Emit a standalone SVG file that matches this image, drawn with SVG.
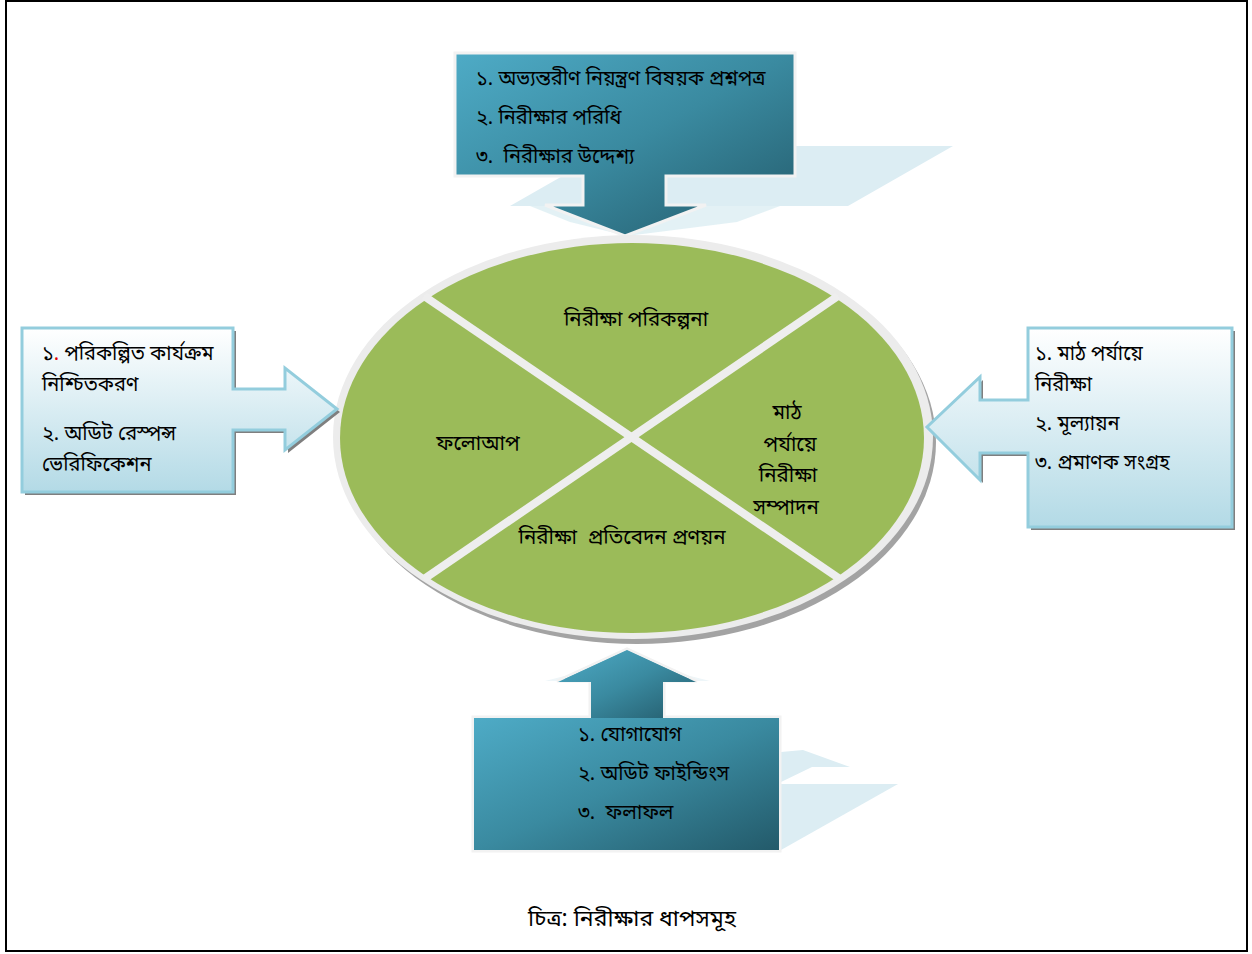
<svg xmlns="http://www.w3.org/2000/svg" width="1252" height="954" viewBox="0 0 1252 954">
<defs>
<linearGradient id="dark" x1="0" y1="0" x2="1" y2="1">
<stop offset="0" stop-color="#4eabc6"/>
<stop offset="0.5" stop-color="#3a8aa0"/>
<stop offset="1" stop-color="#235a6a"/>
</linearGradient>
<linearGradient id="light" x1="0" y1="0" x2="0" y2="1">
<stop offset="0" stop-color="#ffffff"/>
<stop offset="1" stop-color="#b3dae6"/>
</linearGradient>
</defs>
<style>
text{font-family:"Noto Sans","Noto Sans Bengali","Liberation Sans",sans-serif;font-size:20px;fill:#000;white-space:pre}
.c{font-size:20.5px}
.dk{fill:url(#dark);stroke:#f2f2f2;stroke-width:3;stroke-linejoin:miter}
.lt{fill:url(#light);stroke:#93cddd;stroke-width:3;stroke-linejoin:miter}
.sh{fill:#7f7f7f}
.rf{fill:#dcedf3}
.cross{stroke:#eeeeee;stroke-width:8}
</style>
<rect x="6" y="1" width="1241" height="950" fill="#fff" stroke="#000" stroke-width="2"/>

<g id="top-arrow">
<polygon class="rf" points="615,146 953,146 848,206 510,206"/>
<polygon class="rf" points="530,206 780,206 737,222 627,236 570,222" opacity="0.8"/>
<path class="dk" d="M455,53 H795 V176 H666 V205 H706 L625,236 L545,205 H583 V176 H455 Z"/>
<text x="476" y="85">১. অভ্যন্তরীণ নিয়ন্ত্রণ বিষয়ক প্রশ্নপত্র</text>
<text x="476" y="124">২. নিরীক্ষার পরিধি</text>
<text x="476" y="163" xml:space="preserve">৩.  নিরীক্ষার উদ্দেশ্য</text>
</g>

<g id="cycle">
<ellipse cx="637" cy="442" rx="299" ry="202" fill="#a3a3a3"/>
<ellipse cx="633" cy="437" rx="300" ry="202" fill="#ececec"/>
<ellipse cx="632" cy="438" rx="292" ry="195" fill="#9bbb59"/>
<line class="cross" x1="424" y1="296" x2="840" y2="579"/>
<line class="cross" x1="838" y1="296" x2="424" y2="579"/>
<text class="c" x="636" y="326" text-anchor="middle">নিরীক্ষা পরিকল্পনা</text>
<text class="c" x="478" y="450" text-anchor="middle">ফলোআপ</text>
<text class="c" x="787" y="419" text-anchor="middle">মাঠ</text>
<text class="c" x="790" y="451" text-anchor="middle">পর্যায়ে</text>
<text class="c" x="788" y="482" text-anchor="middle">নিরীক্ষা</text>
<text class="c" x="786" y="514" text-anchor="middle">সম্পাদন</text>
<text class="c" x="622" y="544" text-anchor="middle" xml:space="preserve">নিরীক্ষা  প্রতিবেদন প্রণয়ন</text>
</g>

<g id="left-arrow">
<path class="sh" d="M25,331 H236 V392 H288 V371 L340,412 L288,453 V433 H236 V495 H25 Z"/>
<path class="lt" d="M22,328 H233 V389 H285 V368 L337,409 L285,450 V430 H233 V492 H22 Z"/>
<text x="42" y="360">১<tspan fill="#e00000">.</tspan> পরিকল্পিত কার্যক্রম</text>
<text x="42" y="391">নিশ্চিতকরণ</text>
<text x="42" y="440">২. অডিট রেস্পন্স</text>
<text x="42" y="471">ভেরিফিকেশন</text>
</g>

<g id="right-arrow">
<path class="sh" d="M1031,331 H1235 V530 H1031 V456 H983 V483 L930,430 L983,380 V403 H1031 Z"/>
<path class="lt" d="M1028,328 H1232 V527 H1028 V453 H980 V480 L927,427 L980,377 V400 H1028 Z"/>
<text x="1035" y="360">১. মাঠ পর্যায়ে</text>
<text x="1035" y="391">নিরীক্ষা</text>
<text x="1035" y="430">২. মূল্যায়ন</text>
<text x="1035" y="469">৩. প্রমাণক সংগ্রহ</text>
</g>

<g id="bottom-arrow">
<polygon class="rf" points="781,752 803,750 850,767 812,767 781,782"/>
<polygon class="rf" points="781,784 898,784 781,850"/>
<polygon points="545,681 627,660 710,681" fill="#eef6f9"/>
<path class="dk" d="M473,717 H780 V851 H473 Z M590,717 V681 H557 L627,649 L697,681 H664 V717"/>
<path d="M591,718 V682 H558 L627,650 L696,682 H663 V718 Z" fill="url(#dark)"/>
<rect x="474" y="718" width="305" height="132" fill="url(#dark)"/>
<text x="578" y="741">১. যোগাযোগ</text>
<text x="578" y="780">২. অডিট ফাইন্ডিংস</text>
<text x="578" y="819" xml:space="preserve">৩.  ফলাফল</text>
</g>

<text x="632" y="926" text-anchor="middle" style="font-size:23px">চিত্র: নিরীক্ষার ধাপসমূহ</text>
</svg>
